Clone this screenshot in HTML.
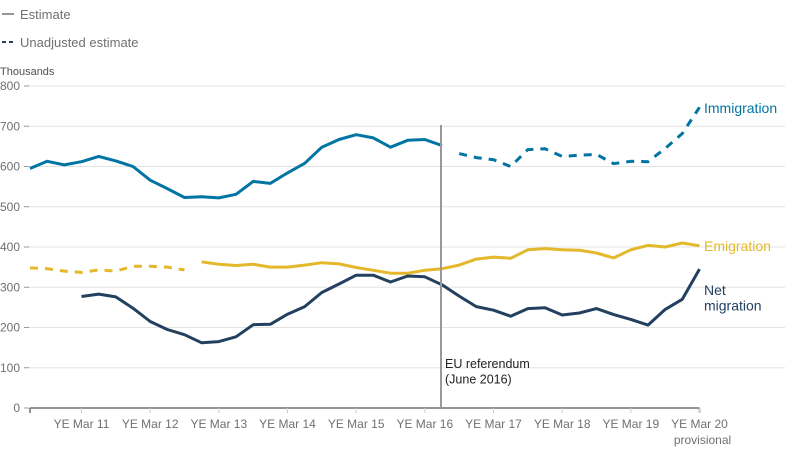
<!DOCTYPE html>
<html><head><meta charset="utf-8"><style>
body{margin:0;background:#fff;}
svg{display:block;font-family:"Liberation Sans",Arial,sans-serif;}
</style></head><body>
<svg id="chart" width="800" height="456">
<g id="grid"></g>
<g id="yticks"></g>
<g id="xaxis"></g>
<g id="series"></g>
<g>
 <line x1="2" y1="14" x2="14" y2="14" stroke="#707070" stroke-width="1.5"/>
 <text x="20" y="19" font-size="13" fill="#707070">Estimate</text>
 <line x1="2" y1="42" x2="15" y2="42" stroke="#22415f" stroke-width="2" stroke-dasharray="4,3"/>
 <text x="20" y="47" font-size="13" fill="#707070">Unadjusted estimate</text>
</g>
<text x="0" y="75" font-size="11" fill="#505050">Thousands</text>
<line x1="441" y1="125" x2="441" y2="408" stroke="#999" stroke-width="2"/>
<text x="445" y="368" font-size="12.5" fill="#222"><tspan x="445">EU referendum</tspan><tspan x="445" dy="15.5">(June 2016)</tspan></text>
<text x="704" y="113" font-size="14" fill="#0075a3">Immigration</text>
<text x="704" y="251" font-size="14" fill="#e3b82a">Emigration</text>
<text x="704" y="295" font-size="14" fill="#22415f"><tspan x="704">Net</tspan><tspan x="704" dy="15.5">migration</tspan></text>
</svg>
<script>
const yTicks=[0,100,200,300,400,500,600,700,800];
const xTickLabels=["YE Mar 11","YE Mar 12","YE Mar 13","YE Mar 14","YE Mar 15","YE Mar 16","YE Mar 17","YE Mar 18","YE Mar 19","YE Mar 20"];
// quarterly, index 0 = YE Jun 10 ... index 39 = YE Mar 20
const immigrationSolid=[595,613,604,612,625,614,600,566,545,523,525,522,531,563,558,584,608,648,667,679,671,648,665,667,652];
const immigrationDashed=[632,622,617,600,642,644,625,628,630,607,613,612,645,682,747];
const emigrationDashed=[348,346,340,337,343,340,352,352,350,343];
const emigrationSolid=[363,357,354,357,350,350,355,361,358,349,342,335,335,342,346,355,370,375,372,393,396,393,392,385,373,393,404,400,410,403];
const netMigration=[277,283,276,248,215,195,182,162,165,177,207,208,233,252,287,308,330,330,313,328,326,306,278,252,243,228,247,249,231,236,247,232,220,206,245,270,345];

const NS="http://www.w3.org/2000/svg";
const x0=30,x1=699.5,nQ=39,yBase=408,yTop=86;
const xs=i=>x0+i*(x1-x0)/nQ;
const ys=v=>yBase-v*(yBase-yTop)/800;
function mk(tag,attrs,parent){const e=document.createElementNS(NS,tag);for(const k in attrs)e.setAttribute(k,attrs[k]);parent.appendChild(e);return e;}
const grid=document.getElementById('grid'),yt=document.getElementById('yticks'),xa=document.getElementById('xaxis'),sr=document.getElementById('series');
yTicks.forEach(v=>{
 if(v>0){const l=mk('line',{x1:28,x2:785,y1:ys(v),y2:ys(v),stroke:'#e3e3e3','stroke-width':1},grid);
 
 }
 const tk=mk('line',{x1:24,x2:29,y1:ys(v),y2:ys(v),stroke:'#999'},yt);
 
 
 const t=mk('text',{x:20,y:ys(v)+4,'text-anchor':'end','font-size':12,fill:'#707070'},yt);
 t.textContent=v;
 
 
});
const ax=mk('line',{x1:x0,x2:x1,y1:yBase,y2:yBase,stroke:'#707070','stroke-width':1.5},xa);


[0,nQ].forEach(i=>{const e=mk('line',{x1:xs(i),x2:xs(i),y1:yBase,y2:yBase+5,stroke:'#707070','stroke-width':1.5},xa);

});
xTickLabels.forEach((lab,k)=>{
 const i=3+4*k,x=xs(i);
 const tk=mk('line',{x1:x,x2:x,y1:yBase,y2:yBase+5,stroke:'#ccc'},xa);
 
 
 const t=mk('text',{x:x,y:yBase+20,'text-anchor':'middle','font-size':12,fill:'#707070'},xa);
 t.textContent=lab;
 
 
 if(k===xTickLabels.length-1){const p=mk('text',{x:x+3,y:yBase+36,'text-anchor':'middle','font-size':12,fill:'#707070'},xa);
 p.textContent='provisional';
 
 }
});
function line(data,start,color,dash,name){
 let d='';data.forEach((v,j)=>{d+=(j?'L':'M')+xs(start+j).toFixed(1)+','+ys(v).toFixed(1);});
 const attrs={d:d,fill:'none',stroke:color,'stroke-width':3,'stroke-linejoin':'round'};
 if(dash)attrs['stroke-dasharray']=dash;
 const p=mk('path',attrs,sr);
 
 
}
line(emigrationDashed,0,'#e3b82a','8,7','emigration-unadjusted-line');
line(emigrationSolid,10,'#e3b82a',null,'emigration-line');
line(netMigration,3,'#22415f',null,'net-migration-line');
line(immigrationSolid,0,'#0075a3',null,'immigration-line');
line(immigrationDashed,25,'#0075a3','8,7','immigration-unadjusted-line');
</script>
</body></html>
